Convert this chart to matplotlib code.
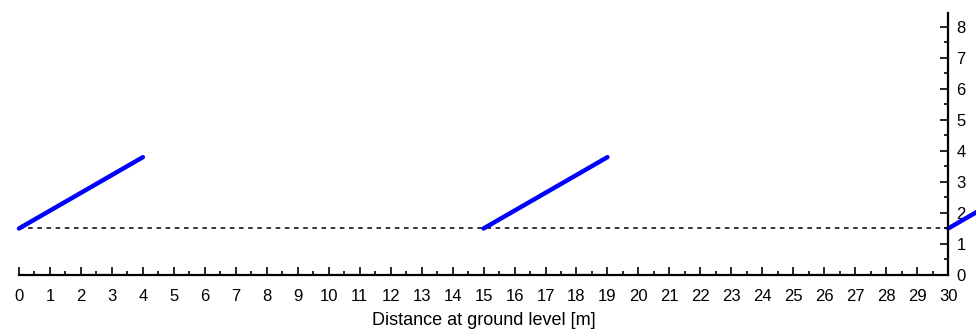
import matplotlib.pyplot as plt
from matplotlib.ticker import FixedLocator

plt.rcParams['font.family'] = ['Liberation Sans', 'DejaVu Sans']

# sloped segments (x start, y start, x end, y end)
seg_x0 = [0, 15, 30]
seg_y0 = [1.5, 1.5, 1.5]
seg_x1 = [4, 19, 34]
seg_y1 = [3.8, 3.8, 3.8]
ground_y = 1.5
x_max = 30
y_max = 8.45

fig = plt.figure(figsize=(9.76, 3.32), dpi=100)
ax = fig.add_axes([15.9 / 976, 57 / 332, (976 - 15.9) / 976, 262 / 332])

ax.plot([0, x_max], [ground_y, ground_y], color="black", lw=1.1,
        ls=(0, (3, 3)))
for a, b, c, d in zip(seg_x0, seg_y0, seg_x1, seg_y1):
    ax.plot([a, c], [b, d], color="#0000ff", lw=3.2, solid_capstyle="round")

ax.set_xlim(-0.1, 30.9)
ax.set_ylim(0, y_max)

ax.spines["top"].set_visible(False)
ax.spines["left"].set_visible(False)
ax.spines["right"].set_position(("data", x_max))
ax.spines["bottom"].set_bounds(0, x_max)
ax.spines["bottom"].set_linewidth(1.6)
ax.spines["right"].set_linewidth(1.6)

ax.yaxis.set_ticks_position("right")
ax.xaxis.set_ticks_position("bottom")
ax.set_xticks(range(0, x_max + 1))
ax.set_yticks(range(0, 9))
ax.xaxis.set_minor_locator(FixedLocator([i + 0.5 for i in range(x_max)]))
ax.yaxis.set_minor_locator(FixedLocator([i + 0.5 for i in range(8)]))
ax.tick_params(which="major", direction="in", length=6, width=1.2,
               labelsize=12)
ax.tick_params(which="minor", direction="in", length=3, width=1.2)
ax.tick_params(axis="x", pad=10)
ax.tick_params(axis="y", pad=6)

# centre the label under 0..30, not the whole axes
ax.set_xlabel("Distance at ground level [m]", fontsize=13, labelpad=6,
              x=(x_max / 2 + 0.1) / 31)

fig.savefig("out.png", dpi=100)
